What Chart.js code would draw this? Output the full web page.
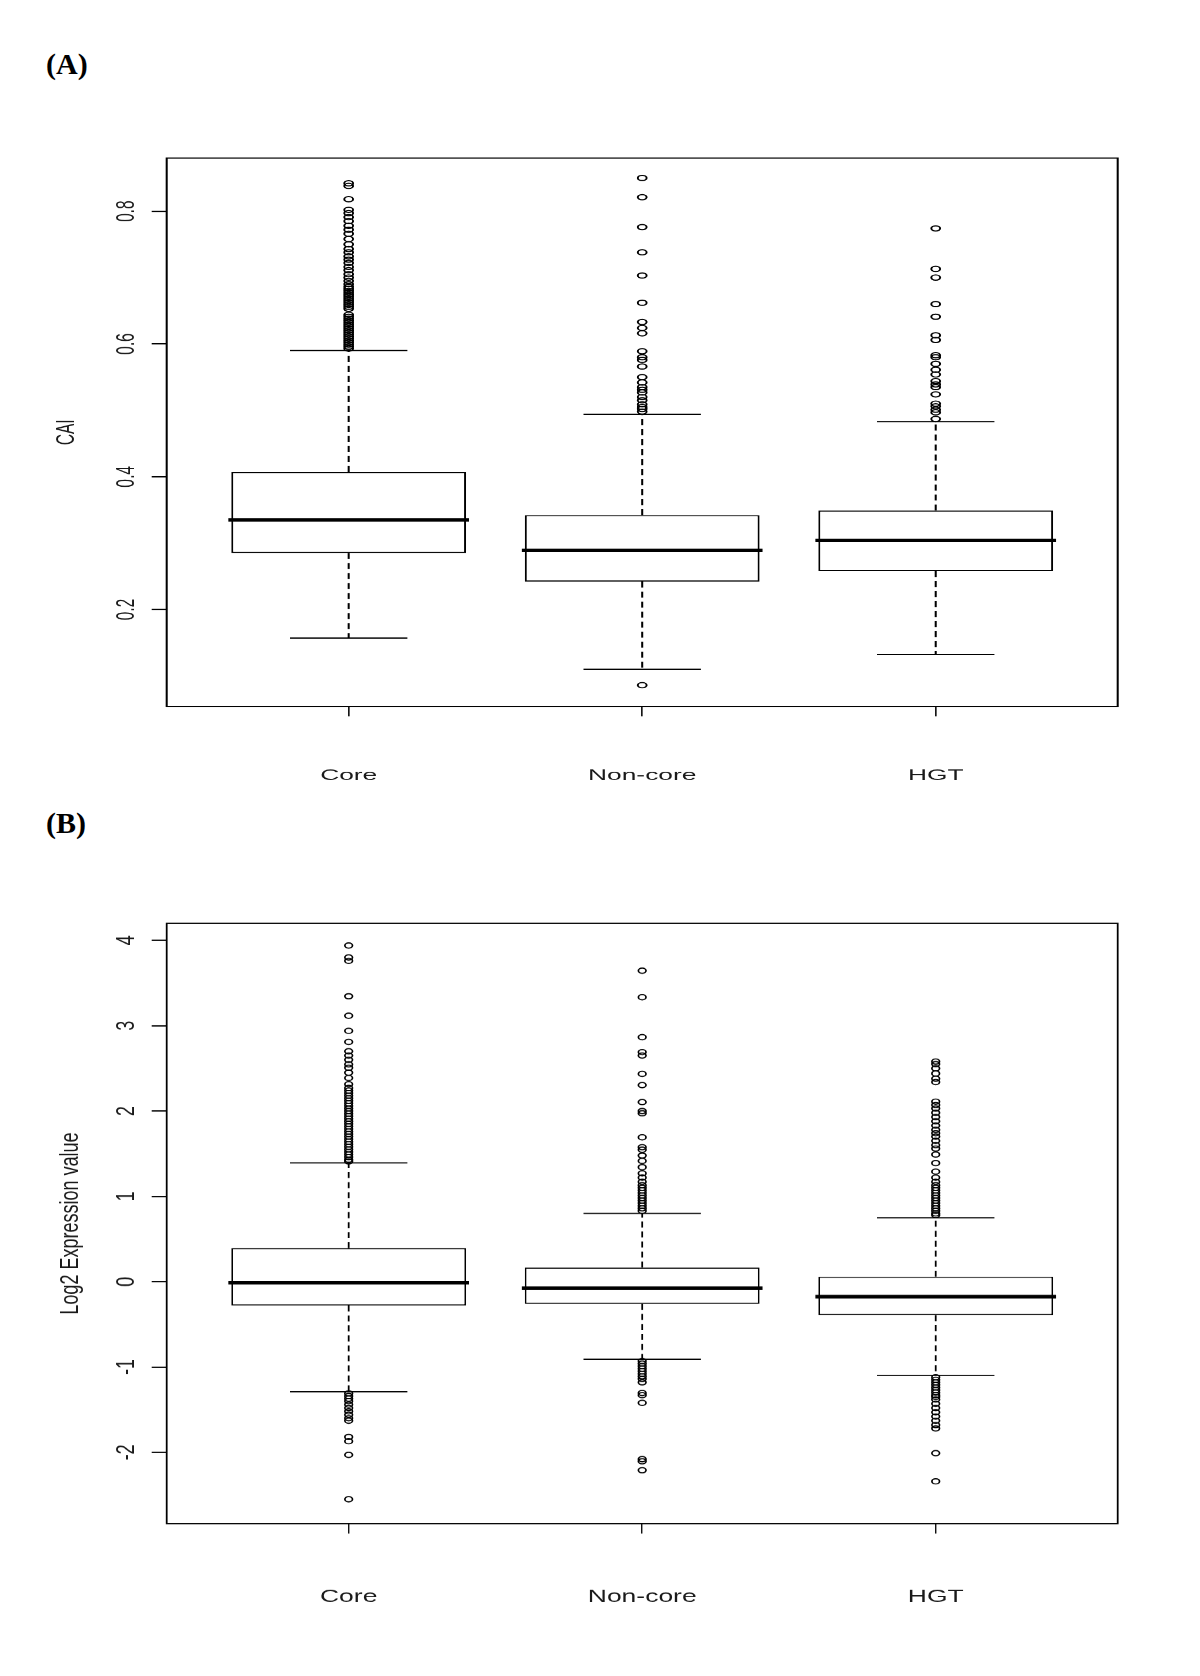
<!DOCTYPE html>
<html>
<head>
<meta charset="utf-8">
<script src="https://cdn.jsdelivr.net/npm/chart.js@4.4.1/dist/chart.umd.min.js"></script>
<style>
html, body { margin: 0; padding: 0; background: #fff; }
body { width: 1200px; height: 1676px; position: relative; overflow: hidden; }
.panel-label { position: absolute; font-family: "Liberation Serif", "Times New Roman", serif; font-weight: bold; font-size: 30px; line-height: 30px; color: #000; white-space: nowrap; }
.wrap { position: absolute; left: 0; transform-origin: 0 0; }
</style>
</head>
<body>
<div class="panel-label" style="left:46px; top:49px;">(A)</div>
<div class="panel-label" style="left:46px; top:808px;">(B)</div>
<div class="wrap" id="wrapA"><canvas id="chartA"></canvas></div>
<div class="wrap" id="wrapB"><canvas id="chartB"></canvas></div>
<script>
// ---------------- data ----------------
const categories = ['Core', 'Non-core', 'HGT'];

// Panel A : CAI
const caiTicks = [0.2, 0.4, 0.6, 0.8];
const caiTickLabels = ['0.2', '0.4', '0.6', '0.8'];
const caiQ1 = [0.285, 0.242, 0.258];
const caiMedian = [0.335, 0.289, 0.304];
const caiQ3 = [0.407, 0.342, 0.349];
const caiWhiskerLow = [0.157, 0.110, 0.132];
const caiWhiskerHigh = [0.590, 0.494, 0.483];
const caiOutCore = [0.842, 0.838, 0.818, 0.802, 0.797, 0.791, 0.785, 0.778, 0.772, 0.766, 0.758, 0.750,
  0.743, 0.738, 0.732, 0.727, 0.722, 0.716, 0.711, 0.705, 0.700, 0.695, 0.690, 0.686, 0.683, 0.680,
  0.677, 0.674, 0.671, 0.668, 0.665, 0.662, 0.659, 0.656, 0.653, 0.644, 0.641, 0.638, 0.635, 0.632,
  0.629, 0.626, 0.623, 0.620, 0.617, 0.614, 0.611, 0.608, 0.605, 0.602, 0.599, 0.596, 0.593];
const caiOutNonCore = [0.850, 0.821, 0.776, 0.738, 0.703, 0.662, 0.633, 0.624, 0.616, 0.589, 0.580,
  0.576, 0.566, 0.550, 0.542, 0.535, 0.531, 0.527, 0.520, 0.515, 0.509, 0.505, 0.502, 0.498, 0.086];
const caiOutHGT = [0.774, 0.713, 0.700, 0.660, 0.641, 0.613, 0.606, 0.583, 0.580, 0.570, 0.561, 0.554,
  0.544, 0.539, 0.535, 0.524, 0.510, 0.506, 0.501, 0.497, 0.487];

// Panel B : Log2 expression
const exprTicks = [-2, -1, 0, 1, 2, 3, 4];
const exprTickLabels = ['-2', '-1', '0', '1', '2', '3', '4'];
const exprQ1 = [-0.278, -0.261, -0.393];
const exprMedian = [-0.012, -0.075, -0.176];
const exprQ3 = [0.393, 0.166, 0.058];
const exprWhiskerLow = [-1.290, -0.909, -1.098];
const exprWhiskerHigh = [1.392, 0.800, 0.748];
const exprOutCore = [3.94, 3.80, 3.76, 3.345, 3.117, 2.94, 2.81, 2.70, 2.65, 2.60, 2.547, 2.508, 2.45,
  2.387, 2.314, 2.27, 2.24, 2.21, 2.18, 2.15, 2.12, 2.09, 2.06, 2.03, 2.00, 1.97, 1.94, 1.91, 1.88, 1.85,
  1.82, 1.79, 1.76, 1.73, 1.70, 1.67, 1.64, 1.61, 1.58, 1.55, 1.52, 1.49, 1.46, 1.43, 1.41,
  -1.31, -1.34, -1.37, -1.40, -1.44, -1.48, -1.52, -1.56, -1.60, -1.63, -1.82, -1.87, -2.03, -2.55];
const exprOutNonCore = [3.645, 3.334, 2.866, 2.69, 2.65, 2.435, 2.304, 2.105, 2.00, 1.974, 1.692, 1.576,
  1.547, 1.478, 1.415, 1.342, 1.27, 1.22, 1.17, 1.13, 1.10, 1.07, 1.04, 1.01, 0.98, 0.95, 0.92, 0.89,
  0.86, 0.83, -0.93, -0.96, -0.99, -1.02, -1.05, -1.08, -1.11, -1.14, -1.18, -1.305, -1.33, -1.42,
  -2.08, -2.105, -2.21];
const exprOutHGT = [2.58, 2.55, 2.50, 2.44, 2.38, 2.34, 2.11, 2.07, 2.03, 1.98, 1.93, 1.88, 1.83, 1.78,
  1.74, 1.70, 1.65, 1.60, 1.56, 1.49, 1.39, 1.29, 1.22, 1.17, 1.13, 1.10, 1.07, 1.04, 1.01, 0.98, 0.95,
  0.92, 0.89, 0.86, 0.83, 0.80, 0.78, -1.12, -1.15, -1.18, -1.21, -1.24, -1.27, -1.30, -1.33, -1.35,
  -1.38, -1.43, -1.48, -1.53, -1.58, -1.63, -1.68, -1.72, -2.01, -2.34];

// ---------------- layout (page pixels) ----------------
const layoutA = { top: 100, height: 720, k: 1.7, plotLeft: 166.7, plotRight: 1117.7, plotTop: 158, plotBottom: 706,
  yMin: 0.054, yMax: 0.880, yLabelCenter: 126.3, yTickLen: 15, titleCenter: 67, xTickLen: 10, xLabelCenter: 775, font: 15.5 };
const layoutB = { top: 860, height: 780, k: 1.47, plotLeft: 166.7, plotRight: 1117.7, plotTop: 923.3, plotBottom: 1523.6,
  yMin: -2.836, yMax: 4.20, yLabelCenter: 126.7, yTickLen: 15, titleCenter: 70.4, xTickLen: 10, xLabelCenter: 1597, font: 18 };

const BOX_HALF = 0.4, MED_HALF = 0.41, CAP_HALF = 0.2;
const FONT_FAMILY = "'Liberation Sans', Arial, sans-serif";
const TEXT_COLOR = '#1a1a1a';

const framePlugin = {
  id: 'frame',
  afterDraw(chart, args, opts) {
    const { ctx, chartArea: a } = chart;
    ctx.save();
    ctx.strokeStyle = '#000';
    ctx.lineWidth = opts.lineWidth || 1.2;
    ctx.strokeRect(a.left, a.top, a.right - a.left, a.bottom - a.top);
    ctx.restore();
  }
};

function buildPanel(canvasId, wrapId, L, d) {
  const W = Math.round(1200 / L.k);
  const k = 1200 / W;
  const H = L.height;
  const wrap = document.getElementById(wrapId);
  wrap.style.top = L.top + 'px';
  wrap.style.transform = 'scaleX(' + k + ')';
  const canvas = document.getElementById(canvasId);
  canvas.width = W;
  canvas.height = H;

  const plotLeft = L.plotLeft / k;
  const plotRight = L.plotRight / k;
  const plotTop = L.plotTop - L.top;
  const plotBottom = L.plotBottom - L.top;
  const m = document.createElement('canvas').getContext('2d');
  m.font = L.font + 'px ' + FONT_FAMILY;
  const widest = Math.max(...d.yTickLabels.map(t => m.measureText(t).width));
  const yTickLen = L.yTickLen / k;
  const yTickPad = plotLeft - yTickLen - widest / 2 - L.yLabelCenter / k;
  const lineH = L.font * 1.2;
  const titlePad = L.titleCenter / k - lineH / 2;
  const xTickPad = (L.xLabelCenter - L.plotBottom) - L.xTickLen - lineH / 2;
  const xAxisH = H - plotBottom;
  const font = { family: FONT_FAMILY, size: L.font, lineHeight: 1.2 };

  const boxData = categories.map((c, i) => ({ x: i, y: [d.q1[i], d.q3[i]] }));
  const medData = categories.flatMap((c, i) => [
    { x: i - MED_HALF, y: d.med[i] }, { x: i + MED_HALF, y: d.med[i] }, { x: i + 0.5, y: null }]);
  const whiskData = categories.flatMap((c, i) => [
    { x: i, y: d.q3[i] }, { x: i, y: d.hi[i] }, { x: i, y: null },
    { x: i, y: d.q1[i] }, { x: i, y: d.lo[i] }, { x: i, y: null }]);
  const capData = categories.flatMap((c, i) => [
    { x: i - CAP_HALF, y: d.hi[i] }, { x: i + CAP_HALF, y: d.hi[i] }, { x: i, y: null },
    { x: i - CAP_HALF, y: d.lo[i] }, { x: i + CAP_HALF, y: d.lo[i] }, { x: i, y: null }]);
  const outData = d.out.flatMap((arr, i) => arr.map(v => ({ x: i, y: v })));

  const zeroPad = s => { s.paddingTop = 0; s.paddingBottom = 0; s.paddingLeft = 0; s.paddingRight = 0; };

  return new Chart(canvas, {
    type: 'bar',
    data: {
      datasets: [
        { type: 'bar', data: boxData, backgroundColor: '#fff', borderColor: '#000', borderWidth: 1.2,
          borderSkipped: false, barPercentage: BOX_HALF * 2, categoryPercentage: 1, order: 5 },
        { type: 'line', data: whiskData, borderColor: '#000', borderWidth: 1.2, borderDash: [6, 4],
          pointRadius: 0, spanGaps: false, fill: false, order: 4 },
        { type: 'line', data: capData, borderColor: '#000', borderWidth: 1.2,
          pointRadius: 0, spanGaps: false, fill: false, order: 3 },
        { type: 'scatter', data: outData, pointStyle: 'circle', pointRadius: 2.6, borderWidth: 1.15,
          borderColor: '#000', backgroundColor: 'rgba(0,0,0,0)', order: 2 },
        { type: 'line', data: medData, borderColor: '#000', borderWidth: 3.5,
          pointRadius: 0, spanGaps: false, fill: false, order: 1 }
      ]
    },
    options: {
      responsive: false,
      animation: false,
      devicePixelRatio: k,
      events: [],
      layout: { padding: { top: plotTop, right: W - plotRight, bottom: 0, left: 0 } },
      plugins: { legend: { display: false }, tooltip: { enabled: false }, frame: { lineWidth: 1.2 } },
      scales: {
        x: {
          type: 'linear', min: -0.62, max: 2.62, offset: false,
          afterBuildTicks: s => { s.ticks = categories.map((c, i) => ({ value: i })); },
          ticks: { callback: (v, i) => categories[i], padding: xTickPad, minRotation: 0, maxRotation: 0,
            autoSkip: false, color: TEXT_COLOR, font: font },
          grid: { offset: false, drawOnChartArea: false, drawTicks: true, tickLength: L.xTickLen, color: '#000', lineWidth: 0.9 },
          border: { display: false },
          afterFit: s => { s.height = xAxisH; zeroPad(s); }
        },
        y: {
          type: 'linear', min: L.yMin, max: L.yMax,
          afterBuildTicks: s => { s.ticks = d.yTicks.map(v => ({ value: v })); },
          ticks: { callback: (v, i) => d.yTickLabels[i], padding: yTickPad, minRotation: 90, maxRotation: 90,
            crossAlign: 'center', autoSkip: false, color: TEXT_COLOR, font: font },
          grid: { drawOnChartArea: false, drawTicks: true, tickLength: yTickLen, color: '#000', lineWidth: 1.3 },
          border: { display: false },
          title: { display: true, text: d.title, color: TEXT_COLOR, font: font, padding: { top: titlePad, bottom: 0 } },
          afterFit: s => { s.width = plotLeft; zeroPad(s); }
        }
      }
    },
    plugins: [framePlugin]
  });
}

buildPanel('chartA', 'wrapA', layoutA, {
  yTicks: caiTicks, yTickLabels: caiTickLabels, title: 'CAI',
  q1: caiQ1, med: caiMedian, q3: caiQ3, lo: caiWhiskerLow, hi: caiWhiskerHigh,
  out: [caiOutCore, caiOutNonCore, caiOutHGT]
});
buildPanel('chartB', 'wrapB', layoutB, {
  yTicks: exprTicks, yTickLabels: exprTickLabels, title: 'Log2 Expression value',
  q1: exprQ1, med: exprMedian, q3: exprQ3, lo: exprWhiskerLow, hi: exprWhiskerHigh,
  out: [exprOutCore, exprOutNonCore, exprOutHGT]
});
</script>
</body>
</html>
